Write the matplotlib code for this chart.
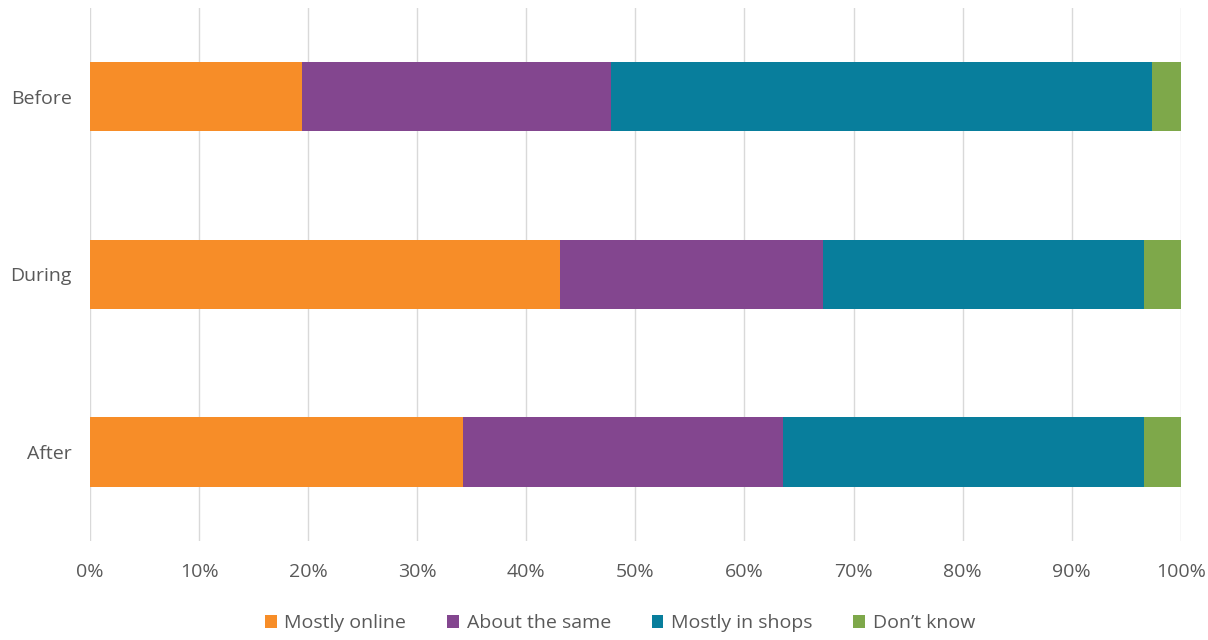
import matplotlib.pyplot as plt
import numpy as np

plt.rcParams['font.family'] = ['Open Sans', 'DejaVu Sans']

periods = ['Before', 'During', 'After']
series = ['Mostly online', 'About the same', 'Mostly in shops', "Don\u2019t know"]
colors = ['#F78D28', '#83468F', '#087E9C', '#7EA84A']

mostly_online = [19.4, 43.1, 34.2]
about_same = [28.4, 24.1, 29.3]
mostly_shops = [49.6, 29.4, 33.1]
dont_know = [2.6, 3.4, 3.4]

values = [mostly_online, about_same, mostly_shops, dont_know]

fig = plt.figure(figsize=(12.08, 6.4), dpi=100)
ax = fig.add_axes([0.0745, 0.155, 0.903, 0.833])

y = np.arange(len(periods))
left = np.zeros(len(periods))
for name, vals, c in zip(series, values, colors):
    ax.barh(y, vals, left=left, height=0.39, color=c, label=name, zorder=3)
    left += np.array(vals)

ax.set_xlim(0, 100)
ax.set_ylim(2.5, -0.5)
ax.set_yticks(y)
ax.set_yticklabels(periods)
ax.set_xticks(np.arange(0, 101, 10))
ax.set_xticklabels([f'{v}%' for v in range(0, 101, 10)])
ax.grid(axis='x', color='#D9D9D9', linewidth=1, zorder=0)
for s in ax.spines.values():
    s.set_visible(False)
ax.tick_params(length=0, labelsize=14, colors='#595959', pad=16)
ax.tick_params(axis='y', pad=13)

ax.legend(loc='upper center', bbox_to_anchor=(0.486, -0.105), ncol=4, frameon=False,
          fontsize=14, labelcolor='#595959', handlelength=0.6, handleheight=0.6,
          handletextpad=0.4, columnspacing=2.1)

fig.savefig('out.png', dpi=100, facecolor='white')
